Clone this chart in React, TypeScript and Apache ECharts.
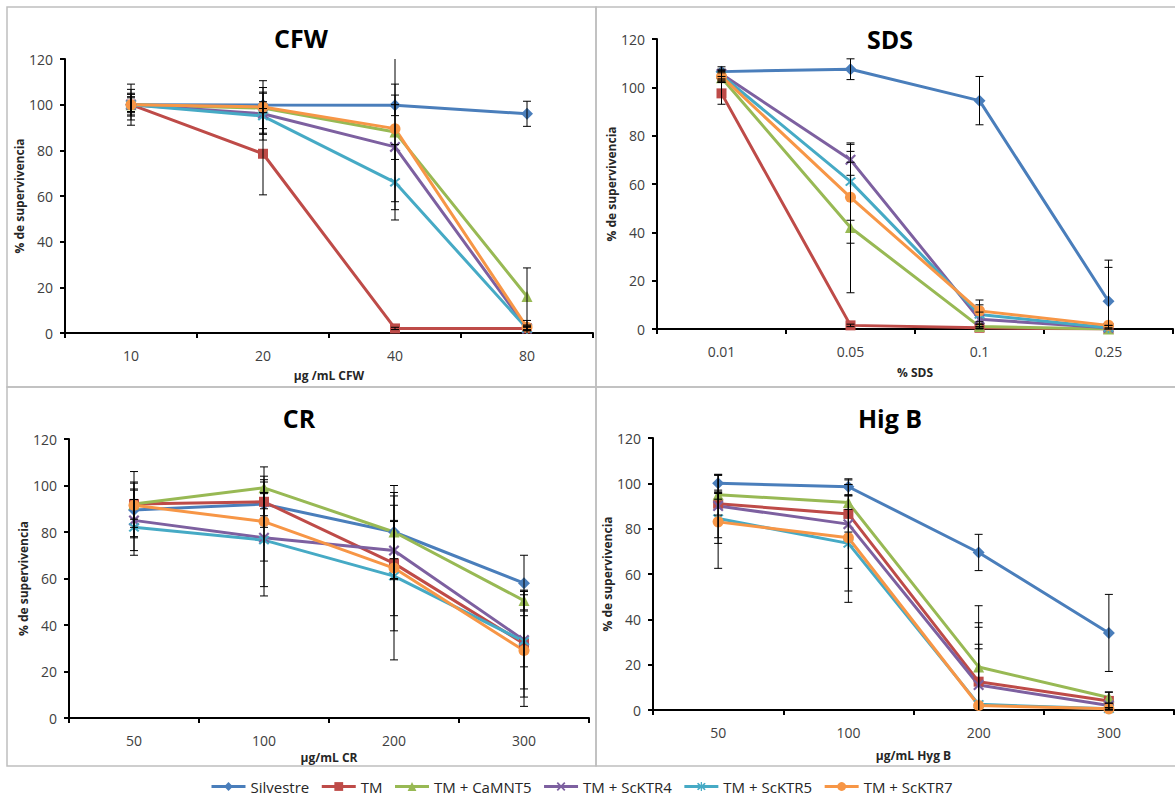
import React, { useEffect, useRef } from "react";
import * as echarts from "echarts";

// ---- Categories (x tick labels) ----
const cfwCategories = ["10", "20", "40", "80"];
const sdsCategories = ["0.01", "0.05", "0.1", "0.25"];
const crCategories = ["50", "100", "200", "300"];
const hygCategories = ["50", "100", "200", "300"];

// ---- Series names ----
const seriesNames = ["Silvestre", "TM", "TM + CaMNT5", "TM + ScKTR4", "TM + ScKTR5", "TM + ScKTR7"];

// ---- CFW panel (means, error magnitudes) ----
const cfwSilvestre = [100, 99.8, 99.7, 96];
const cfwTM = [100, 78.5, 2, 2];
const cfwCaMNT5 = [100, 98.5, 88, 16];
const cfwScKTR4 = [100, 96, 81.5, 2];
const cfwScKTR5 = [100, 95, 66, 2];
const cfwScKTR7 = [100, 99, 89.5, 2.5];
const cfwErrSilvestre = [3, 1.5, 4.5, 5.5];
const cfwErrTM = [9, 18, 0.5, 0.5];
const cfwErrCaMNT5 = [6.7, 9, 12, 12.5];
const cfwErrScKTR4 = [4.5, 9, 27.5, 1];
const cfwErrScKTR5 = [5, 10.5, 16.5, 1];
const cfwErrScKTR7 = [3.5, 11.5, 32, 3];

// ---- SDS panel ----
const sdsSilvestre = [106.5, 107.5, 94.5, 11.5];
const sdsTM = [97.5, 1.5, 0.5, 0];
const sdsCaMNT5 = [104, 42, 1, 0];
const sdsScKTR4 = [105.5, 70, 4, 0.5];
const sdsScKTR5 = [105, 61, 6, 0.5];
const sdsScKTR7 = [104.5, 54.5, 7.5, 1.5];
const sdsErrSilvestre = [2, 4.3, 10, 17];
const sdsErrTM = [4.5, 0.5, 0.3, 0];
const sdsErrCaMNT5 = [2, 27, 1, 0.5];
const sdsErrScKTR4 = [2, 6.4, 3, 1];
const sdsErrScKTR5 = [2, 16, 4, 1];
const sdsErrScKTR7 = [2, 19, 4.5, 24];

// ---- CR panel ----
const crSilvestre = [89.5, 92, 80, 58];
const crTM = [92, 93, 66.5, 32];
const crCaMNT5 = [92, 99, 80, 50.5];
const crScKTR4 = [85, 77.5, 72, 33.5];
const crScKTR5 = [82, 76.5, 61, 33];
const crScKTR7 = [91.5, 84.5, 64.5, 29];
const crErrSilvestre = [12, 5, 11.5, 12];
const crErrTM = [6.5, 11, 29, 23];
const crErrCaMNT5 = [14, 9, 20, 4];
const crErrScKTR4 = [13, 25, 12.5, 21];
const crErrScKTR5 = [12, 20, 36, 11];
const crErrScKTR7 = [9.5, 17, 20.5, 24];

// ---- Hyg B panel ----
const hygSilvestre = [100, 98.5, 69.5, 34];
const hygTM = [91, 86.5, 12.5, 4];
const hygCaMNT5 = [95, 91.5, 19, 5.5];
const hygScKTR4 = [90, 82, 11, 2];
const hygScKTR5 = [84.5, 73.5, 2.5, 0.5];
const hygScKTR7 = [83, 76, 2, 0.5];
const hygErrSilvestre = [3.8, 3.5, 8, 17];
const hygErrTM = [5, 8, 26, 3.8];
const hygErrCaMNT5 = [2, 3, 27, 2.5];
const hygErrScKTR4 = [14, 19.5, 25.5, 1];
const hygErrScKTR5 = [11, 26, 26.5, 0.5];
const hygErrScKTR7 = [20.5, 23.5, 25, 0.5];

// ---- Y axis ticks ----
const yMin = 0;
const yMax = 120;
const yInterval = 20;

const colors = ["#4A7EBB", "#BE4B48", "#98B954", "#7D60A0", "#46AAC5", "#F79646"];
const X_PATH =
  "path://M0,1.4 L1.4,0 L5,3.6 L8.6,0 L10,1.4 L6.4,5 L10,8.6 L8.6,10 L5,6.4 L1.4,10 L0,8.6 L3.6,5 Z";
const STAR_PATH =
  "path://M0,1.4 L1.4,0 L5,3.6 L8.6,0 L10,1.4 L6.4,5 L10,8.6 L8.6,10 L5,6.4 L1.4,10 L0,8.6 L3.6,5 Z M4.3,-1 L5.7,-1 L5.7,11 L4.3,11 Z";
const symbols = ["diamond", "rect", "triangle", X_PATH, STAR_PATH, "circle"];
const symbolSizes = [12, 10, 11, 11, 11, 11];

const panels = [
  {
    title: "CFW", cats: cfwCategories, xName: "\u03bcg /mL CFW",
    means: [cfwSilvestre, cfwTM, cfwCaMNT5, cfwScKTR4, cfwScKTR5, cfwScKTR7],
    errs: [cfwErrSilvestre, cfwErrTM, cfwErrCaMNT5, cfwErrScKTR4, cfwErrScKTR5, cfwErrScKTR7],
    grid: { left: 65, top: 59, width: 528, height: 274 }, titlePos: [301, 38], yGap: 35, xGap: 36,
  },
  {
    title: "SDS", cats: sdsCategories, xName: "% SDS",
    means: [sdsSilvestre, sdsTM, sdsCaMNT5, sdsScKTR4, sdsScKTR5, sdsScKTR7],
    errs: [sdsErrSilvestre, sdsErrTM, sdsErrCaMNT5, sdsErrScKTR4, sdsErrScKTR5, sdsErrScKTR7],
    grid: { left: 657, top: 39, width: 516, height: 290 }, titlePos: [890, 39], yGap: 38, xGap: 37,
  },
  {
    title: "CR", cats: crCategories, xName: "\u03bcg/mL CR",
    means: [crSilvestre, crTM, crCaMNT5, crScKTR4, crScKTR5, crScKTR7],
    errs: [crErrSilvestre, crErrTM, crErrCaMNT5, crErrScKTR4, crErrScKTR5, crErrScKTR7],
    grid: { left: 69, top: 439, width: 520, height: 279 }, titlePos: [299, 418], yGap: 40, xGap: 33,
  },
  {
    title: "Hig B", cats: hygCategories, xName: "\u03bcg/mL Hyg B",
    means: [hygSilvestre, hygTM, hygCaMNT5, hygScKTR4, hygScKTR5, hygScKTR7],
    errs: [hygErrSilvestre, hygErrTM, hygErrCaMNT5, hygErrScKTR4, hygErrScKTR5, hygErrScKTR7],
    grid: { left: 653, top: 438, width: 521, height: 272 }, titlePos: [890, 418], yGap: 36, xGap: 39,
  },
];

const FONT = "'Open Sans', 'Liberation Sans', sans-serif";

function errorRenderItem(params: any, api: any) {
  const idx = api.value(0);
  const lo = api.value(1);
  const hi = api.value(2);
  const pHi = api.coord([idx, hi]);
  const pLo = api.coord([idx, lo]);
  const cs = params.coordSys;
  const top = Math.max(pHi[1], cs.y);
  const bot = Math.min(pLo[1], cs.y + cs.height);
  const x = pHi[0];
  const w = 4;
  const style = { stroke: "#000", lineWidth: 1 };
  const children: any[] = [
    { type: "line", shape: { x1: x, y1: top, x2: x, y2: bot }, style },
  ];
  if (pHi[1] >= cs.y - 0.5)
    children.push({ type: "line", shape: { x1: x - w, y1: pHi[1], x2: x + w, y2: pHi[1] }, style });
  if (pLo[1] <= cs.y + cs.height + 0.5)
    children.push({ type: "line", shape: { x1: x - w, y1: pLo[1], x2: x + w, y2: pLo[1] }, style });
  return { type: "group", children };
}

export default function App() {
  const ref = useRef<HTMLDivElement>(null);
  useEffect(() => {
    if (!ref.current) return;
    const chart = echarts.init(ref.current, undefined, { renderer: "svg" });

    const grids: any[] = [];
    const xAxes: any[] = [];
    const yAxes: any[] = [];
    const series: any[] = [];
    const graphics: any[] = [];

    const borders = [
      [7, 7, 589, 380],
      [596, 7, 589, 380],
      [7, 387, 589, 379],
      [596, 387, 589, 379],
    ];
    borders.forEach((b) =>
      graphics.push({
        type: "rect",
        shape: { x: b[0], y: b[1], width: b[2], height: b[3] },
        style: { fill: "none", stroke: "#bfbfbf", lineWidth: 1.5 },
        z: -1,
      })
    );

    panels.forEach((p, pi) => {
      grids.push({ ...p.grid, containLabel: false });
      xAxes.push({
        type: "category",
        gridIndex: pi,
        data: p.cats,
        boundaryGap: true,
        axisLine: { show: true, lineStyle: { color: "#000", width: 2 } },
        axisTick: { show: true, length: 5, lineStyle: { color: "#000", width: 2 } },
        axisLabel: { fontSize: 14, color: "#404040", margin: 15, fontFamily: FONT },
        splitLine: { show: false },
        name: p.xName,
        nameLocation: "middle",
        nameGap: p.xGap,
        nameTextStyle: { fontSize: 12, fontWeight: "bold", color: "#262626", fontFamily: FONT },
      });
      yAxes.push({
        type: "value",
        gridIndex: pi,
        min: yMin,
        max: yMax,
        interval: yInterval,
        axisLine: { show: true, lineStyle: { color: "#000", width: 2 } },
        axisTick: { show: true, length: 5, lineStyle: { color: "#000", width: 2 } },
        axisLabel: { fontSize: 14, color: "#404040", margin: 12, fontFamily: FONT },
        splitLine: { show: false },
        name: "% de supervivencia",
        nameLocation: "middle",
        nameRotate: 90,
        nameGap: p.yGap,
        nameTextStyle: { fontSize: 12, fontWeight: "bold", color: "#262626", fontFamily: FONT },
      });
      p.means.forEach((m, si) => {
        series.push({
          type: "line",
          name: seriesNames[si],
          xAxisIndex: pi,
          yAxisIndex: pi,
          data: m,
          symbol: symbols[si],
          symbolSize: symbolSizes[si],
          showAllSymbol: true,
          lineStyle: { color: colors[si], width: 3 },
          itemStyle: { color: colors[si] },
          z: 2,
        });
      });
      p.means.forEach((m, si) => {
        const e = p.errs[si];
        series.push({
          type: "custom",
          name: "err-" + pi + "-" + si,
          xAxisIndex: pi,
          yAxisIndex: pi,
          renderItem: errorRenderItem,
          data: m.map((v, i) => [i, v - e[i], v + e[i]]),
          encode: { x: 0, y: [1, 2] },
          z: 3,
          silent: true,
          clip: false,
        });
      });
      graphics.push({
        type: "text",
        x: p.titlePos[0],
        y: p.titlePos[1],
        style: {
          text: p.title,
          fontSize: 25,
          fontWeight: "bold",
          fontFamily: FONT,
          fill: "#000",
          align: "center",
          verticalAlign: "middle",
        },
      });
    });

    chart.setOption({
      animation: false,
      backgroundColor: "#ffffff",
      textStyle: { fontFamily: FONT },
      grid: grids,
      xAxis: xAxes,
      yAxis: yAxes,
      series,
      graphic: graphics,
      legend: {
        data: seriesNames,
        left: 210,
        top: 779,
        padding: 0,
        itemWidth: 34,
        itemHeight: 11,
        itemGap: 11,
        lineStyle: { width: 3 },
        textStyle: {
          fontSize: 15,
          color: "#262626",
          fontFamily: FONT,
        },
      },
    });
    return () => chart.dispose();
  }, []);
  return (
    <div
      ref={ref}
      style={{ position: "absolute", left: 0, top: 0, width: 1175, height: 805, background: "#fff" }}
    />
  );
}
